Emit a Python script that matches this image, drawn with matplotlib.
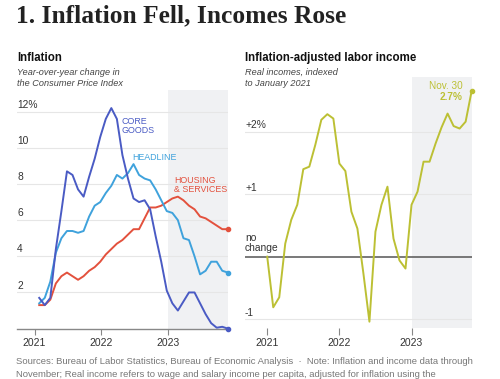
import numpy as np
import matplotlib
matplotlib.use("Agg")
import matplotlib.pyplot as plt

plt.rcParams['font.family'] = ['Liberation Sans', 'DejaVu Sans']

# monthly values, Jan 2021 .. Nov 2023
core_goods = [1.7, 1.3, 1.7, 4.4, 6.5, 8.7, 8.5, 7.7, 7.3, 8.4, 9.4, 10.6,
              11.6, 12.2, 11.6, 9.6, 8.3, 7.2, 7.0, 7.1, 6.6, 5.1, 3.7, 2.1,
              1.4, 1.0, 1.5, 2.0, 2.0, 1.4, 0.8, 0.3, 0.05, 0.1, 0.0]
headline = [1.4, 1.7, 2.6, 4.2, 5.0, 5.4, 5.4, 5.3, 5.4, 6.2, 6.8, 7.0,
            7.5, 7.9, 8.5, 8.3, 8.6, 9.1, 8.5, 8.3, 8.2, 7.7, 7.1, 6.5,
            6.4, 6.0, 5.0, 4.9, 4.0, 3.0, 3.2, 3.7, 3.7, 3.2, 3.1]
housing_services = [1.3, 1.3, 1.6, 2.5, 2.9, 3.1, 2.9, 2.7, 2.9, 3.2, 3.4, 3.7,
                    4.1, 4.4, 4.7, 4.9, 5.2, 5.5, 5.5, 6.1, 6.7, 6.7, 6.8, 7.0,
                    7.2, 7.3, 7.1, 6.8, 6.6, 6.2, 6.1, 5.9, 5.7, 5.5, 5.5]
real_income = [0.0, -0.81, -0.65, 0.21, 0.59, 0.83, 1.40, 1.44, 1.79, 2.19, 2.28, 2.21,
               1.49, 1.37, 0.72, 0.45, -0.27, -1.04, 0.40, 0.83, 1.12, 0.29, -0.06, -0.19,
               0.83, 1.04, 1.52, 1.52, 1.81, 2.07, 2.29, 2.09, 2.05, 2.16, 2.65]

years = [2021, 2022, 2023]
infl_ticks = [2, 4, 6, 8, 10, 12]
infl_labels = ["2", "4", "6", "8", "10", "12%"]
inc_ticks = [2, 1, -1]
inc_labels = ["+2%", "+1", "-1"]

C_CORE = "#4a5bc4"
C_HEAD = "#3fa2dc"
C_HOUS = "#e3513d"
C_INC = "#bcc034"
SHADE = "#f0f1f3"
GRID = "#e6e6e6"
TXT = "#333333"

W, H = 500, 379
fig = plt.figure(figsize=(5, 3.79), dpi=100)


def fx(x):
    return x / W


def fy(y):
    return 1 - y / H


def ftext(x, y, s, **kw):
    fig.text(fx(x), fy(y), s, **kw)


n = len(core_goods)
x_left = 2021 + (np.arange(n) + 0.85) / 12
x_right = 2021 + np.arange(n) / 12

# ---- left: inflation ----
ax1 = fig.add_axes([fx(17), fy(328.6), fx(228) - fx(17), fy(90) - fy(328.6)])
ax1.set_xlim(2020.737, x_left[-1] + 0.003)
ax1.set_ylim(0, 13.2)
ax1.axvspan(2023, x_left[-1] + 0.003, color=SHADE, lw=0, zorder=0)
for v, lab in zip(infl_ticks, infl_labels):
    ax1.axhline(v, color=GRID, lw=0.8, zorder=1)
    ax1.text(0, v + 0.1, lab, transform=ax1.get_yaxis_transform(),
             fontsize=7.4, color=TXT, va='bottom', ha='left')
for vals, c in [(housing_services, C_HOUS), (headline, C_HEAD), (core_goods, C_CORE)]:
    ax1.plot(x_left, vals, color=c, lw=1.4, zorder=3, clip_on=False)
    ax1.plot(x_left[-1], vals[-1], 'o', color=c, ms=3, zorder=4, clip_on=False)
for s in ['top', 'right', 'left']:
    ax1.spines[s].set_visible(False)
ax1.spines['bottom'].set_color('#888888')
ax1.spines['bottom'].set_linewidth(1)
ax1.set_yticks([])
ax1.set_xticks(years)
ax1.set_xticklabels([str(y) for y in years])
ax1.tick_params(axis='x', length=4, width=0.8, color='#888888', labelsize=7.5,
                labelcolor=TXT, pad=3)

# ---- right: real labor income ----
ax2 = fig.add_axes([fx(245), fy(328.3), fx(472) - fx(245), fy(77.3) - fy(328.3)])
ax2.set_xlim(2020.692, x_right[-1] + 0.005)
ax2.set_ylim(-1.146, 2.87)
ax2.axvspan(2023, x_right[-1] + 0.005, color=SHADE, lw=0, zorder=0)
for v, lab in zip(inc_ticks, inc_labels):
    ax2.axhline(v, color=GRID, lw=0.8, zorder=1)
    ax2.text(0, v + 0.025, lab, transform=ax2.get_yaxis_transform(),
             fontsize=7.4, color=TXT, va='bottom', ha='left')
ax2.axhline(0, color='#555555', lw=1.1, zorder=2)
ax2.text(0, 0.06, "no\nchange", transform=ax2.get_yaxis_transform(),
         fontsize=7.4, color=TXT, va='bottom', ha='left', linespacing=0.95)
ax2.plot(x_right, real_income, color=C_INC, lw=1.4, zorder=3, clip_on=False)
ax2.plot(x_right[-1], real_income[-1], 'o', color=C_INC, ms=3, zorder=4, clip_on=False)
for s in ax2.spines.values():
    s.set_visible(False)
ax2.set_yticks([])
ax2.set_xticks(years)
ax2.set_xticklabels([str(y) for y in years])
ax2.tick_params(axis='x', length=5, width=0.8, color='#888888', labelsize=7.5,
                labelcolor=TXT, pad=2)

# ---- text ----
ftext(16, 15.5, "1. Inflation Fell, Incomes Rose", fontsize=18.4, fontweight='bold',
      family=['Liberation Serif', 'DejaVu Serif'], color='#222222', va='center')
ftext(17, 58, "Inflation", fontsize=8.3, fontweight='bold', color='#111111', va='center')
ftext(17, 78, "Year-over-year change in\nthe Consumer Price Index", fontsize=6.6,
      style='italic', color='#444444', va='center', linespacing=1.3)
ftext(245, 58, "Inflation-adjusted labor income", fontsize=8.3, fontweight='bold',
      color='#111111', va='center')
ftext(245, 78, "Real incomes, indexed\nto January 2021", fontsize=6.6,
      style='italic', color='#444444', va='center', linespacing=1.3)

ftext(122, 125.5, "CORE\nGOODS", fontsize=6.4, color=C_CORE, va='center', linespacing=1.0)
ftext(132, 157.5, "HEADLINE", fontsize=6.4, color=C_HEAD, va='center')
ftext(174, 185, "HOUSING\n& SERVICES", fontsize=6.4, color=C_HOUS, va='center',
      linespacing=1.0)
ftext(463, 86, "Nov. 30", fontsize=7.2, color=C_INC, ha='right', va='center')
ftext(463, 96.5, "2.7%", fontsize=7.2, color=C_INC, ha='right', va='center',
      fontweight='bold')

ftext(16, 362, "Sources: Bureau of Labor Statistics, Bureau of Economic Analysis  \u00b7  "
      "Note: Inflation and income data through", fontsize=6.8, color='#777777', va='center')
ftext(16, 374.5, "November; Real income refers to wage and salary income per capita, "
      "adjusted for inflation using the", fontsize=6.8, color='#777777', va='center')

fig.savefig("out.png", dpi=100)
